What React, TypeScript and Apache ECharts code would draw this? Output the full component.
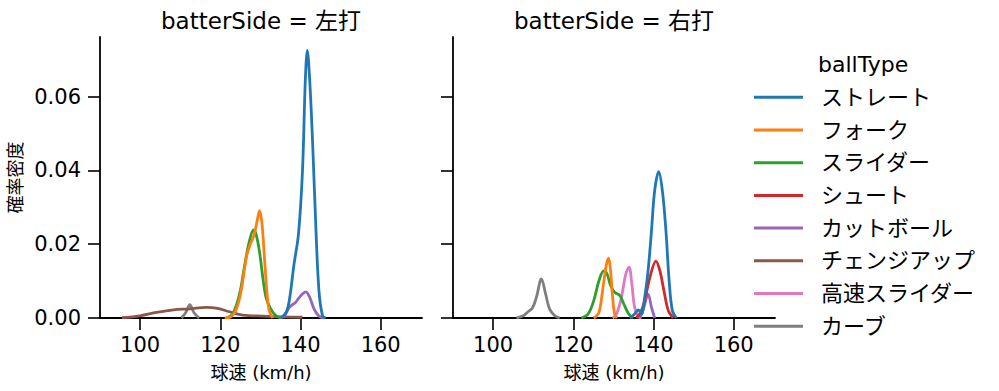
import React, { useEffect, useRef } from "react";
import * as echarts from "echarts";

const ballTypes = ["ストレート", "フォーク", "スライダー", "シュート", "カットボール", "チェンジアップ", "高速スライダー", "カーブ"];
const colors = ["#1f77b4", "#ff7f0e", "#2ca02c", "#d62728", "#9467bd", "#8c564b", "#e377c2", "#7f7f7f"];
const panelTitles = ["batterSide = 左打", "batterSide = 右打"];
const xTicks = [100, 120, 140, 160];
const yTicks = [0, 0.02, 0.04, 0.06];

// 左打
const leftStraight = [[135.1, 0], [136.4, 0.0015], [137.2, 0.0047], [138.4, 0.0147], [139.5, 0.0228], [140.5, 0.040], [141.2, 0.0644], [141.7, 0.0726], [142.3, 0.0644], [143.0, 0.0481], [143.8, 0.0255], [144.6, 0.0074], [145.5, 0.0006], [146.3, 0]];
const leftFork = [[121.1, 0], [122.7, 0.0004], [124.0, 0.0024], [125.2, 0.0074], [126.5, 0.0165], [127.5, 0.0201], [128.4, 0.0224], [129.2, 0.0264], [129.8, 0.0291], [130.4, 0.0255], [131.0, 0.0165], [131.6, 0.0074], [132.2, 0.002], [133.1, 0]];
const leftSlider = [[121.5, 0], [123.1, 0.0011], [124.8, 0.0065], [126.0, 0.0138], [127.1, 0.0201], [128.3, 0.0239], [128.9, 0.0228], [129.8, 0.0178], [130.6, 0.011], [131.4, 0.0056], [132.6, 0.0024], [133.9, 0.0006], [135.1, 0]];
const leftCutter = [[134.7, 0], [136.0, 0.0006], [137.2, 0.0029], [138.8, 0.0043], [140.1, 0.0061], [141.3, 0.0071], [142.3, 0.0056], [143.4, 0.0024], [144.6, 0.0005], [145.9, 0]];
const leftChangeup = [[95.5, 0.0001], [100.0, 0.0006], [104.1, 0.0015], [108.3, 0.0022], [112.4, 0.0025], [116.5, 0.0029], [119.0, 0.0027], [122.3, 0.0017], [125.6, 0.0008], [130.6, 0.0005], [135.5, 0.0003], [140.5, 0.0002]];
const leftCurve = [[110.3, 0], [111.4, 0.0015], [112.4, 0.0036], [113.4, 0.0015], [114.7, 0]];

// 右打
const rightStraight = [[134.1, 0], [135.3, 0.0011], [136.2, 0.0022], [137.0, 0.0011], [137.8, 0.0056], [138.65, 0.0128], [139.5, 0.0237], [140.3, 0.0346], [141.3, 0.0397], [142.2, 0.0346], [143.1, 0.0237], [143.9, 0.0101], [144.7, 0.002], [145.7, 0]];
const rightFork = [[125.1, 0], [126.4, 0.0015], [127.4, 0.0083], [128.3, 0.0147], [128.8, 0.0162], [129.3, 0.0128], [129.8, 0.0056], [130.3, 0.0011], [130.9, 0]];
const rightSlider = [[122.0, 0], [123.7, 0.0011], [125.1, 0.0047], [126.4, 0.0101], [127.6, 0.0128], [128.4, 0.012], [129.3, 0.0088], [130.3, 0.007], [131.6, 0.0061], [132.6, 0.0038], [133.7, 0.0013], [134.9, 0]];
const rightShoot = [[135.7, 0], [136.8, 0.0015], [137.8, 0.0047], [139.1, 0.011], [140.6, 0.0154], [141.6, 0.0128], [142.6, 0.0074], [143.7, 0.002], [144.9, 0]];
const rightCutter = [[136.6, 0], [137.6, 0.0029], [138.65, 0.0065], [139.5, 0.0029], [140.3, 0]];
const rightFastSlider = [[129.8, 0], [130.8, 0.0011], [132.0, 0.0056], [133.1, 0.012], [133.9, 0.0138], [134.6, 0.0092], [135.3, 0.0029], [136.2, 0.0004], [137.0, 0]];
const rightCurve = [[105.8, 0], [107.5, 0.0006], [108.7, 0.0017], [109.8, 0.0027], [110.8, 0.0056], [112.05, 0.0106], [113.1, 0.0065], [114.1, 0.0024], [115.4, 0.0006], [116.6, 0]];

const panelData: (number[][] | null)[][] = [
  [leftStraight, leftFork, leftSlider, null, leftCutter, leftChangeup, null, leftCurve],
  [rightStraight, rightFork, rightSlider, rightShoot, rightCutter, null, rightFastSlider, rightCurve],
];

const FONT = "'DejaVu Sans', 'Noto Sans CJK JP', sans-serif";
const TXT = "#000";

export default function App() {
  const ref = useRef<HTMLDivElement>(null);
  useEffect(() => {
    if (!ref.current) return;
    const chart = echarts.init(ref.current, null, { renderer: "svg" });
    const grids = [
      { left: 100, top: 37, width: 322, height: 281 },
      { left: 453, top: 37, width: 322, height: 281 },
    ];
    const xAxes = grids.map((_, i) => ({
      type: "value",
      gridIndex: i,
      min: 90,
      max: 170.3,
      name: "球速 (km/h)",
      nameLocation: "middle",
      nameGap: 45,
      nameTextStyle: { fontFamily: FONT, fontSize: 18, color: TXT },
      axisLine: { show: true, onZero: false, lineStyle: { color: "#000", width: 1.8 } },
      axisTick: { show: true, length: 12, customValues: xTicks, lineStyle: { color: "#000", width: 1.6 } },
      axisLabel: { customValues: xTicks, fontFamily: FONT, fontSize: 21, color: TXT, margin: 16 },
      splitLine: { show: false },
    }));
    const yAxes = grids.map((_, i) => ({
      type: "value",
      gridIndex: i,
      min: 0,
      max: 0.0762,
      name: i === 0 ? "確率密度" : "",
      nameLocation: "middle",
      nameGap: 76,
      nameTextStyle: { fontFamily: FONT, fontSize: 18, color: TXT },
      axisLine: { show: true, lineStyle: { color: "#000", width: 1.8 } },
      axisTick: { show: true, length: 12, customValues: yTicks, lineStyle: { color: "#000", width: 1.6 } },
      axisLabel: {
        show: i === 0,
        customValues: yTicks,
        fontFamily: FONT,
        fontSize: 21,
        color: TXT,
        margin: 19,
        formatter: (v: number) => v.toFixed(2),
      },
      splitLine: { show: false },
    }));
    const series: any[] = [];
    panelData.forEach((arr, p) => {
      for (let k = ballTypes.length - 1; k >= 0; k--) {
        const d = arr[k];
        if (!d) continue;
        series.push({
          type: "line",
          name: ballTypes[k],
          xAxisIndex: p,
          yAxisIndex: p,
          data: d,
          smooth: 0.35,
          symbol: "none",
          z: 10 - k,
          lineStyle: { color: colors[k], width: 2.8 },
        });
      }
    });
    const graphic: any[] = [];
    panelTitles.forEach((t, i) => {
      graphic.push({
        type: "text",
        x: grids[i].left + grids[i].width / 2,
        y: 21,
        style: { text: t, fontFamily: FONT, fontSize: 23, fill: TXT, textAlign: "center", textVerticalAlign: "middle" },
      });
    });
    graphic.push({
      type: "text",
      x: 818,
      y: 64,
      style: { text: "ballType", fontFamily: FONT, fontSize: 22, fill: TXT, textAlign: "left", textVerticalAlign: "middle" },
    });
    ballTypes.forEach((b, k) => {
      const y = 97.3 + k * 32.7;
      graphic.push({
        type: "line",
        shape: { x1: 754, y1: y, x2: 803, y2: y },
        style: { stroke: colors[k], lineWidth: 3 },
      });
      graphic.push({
        type: "text",
        x: 821,
        y,
        style: { text: b, fontFamily: FONT, fontSize: 22, fill: TXT, textAlign: "left", textVerticalAlign: "middle" },
      });
    });
    chart.setOption({
      animation: false,
      backgroundColor: "#fff",
      grid: grids,
      xAxis: xAxes,
      yAxis: yAxes,
      series,
      graphic,
    });
    return () => chart.dispose();
  }, []);
  return <div ref={ref} style={{ width: 999, height: 391, position: "absolute", left: 0, top: 0 }} />;
}
